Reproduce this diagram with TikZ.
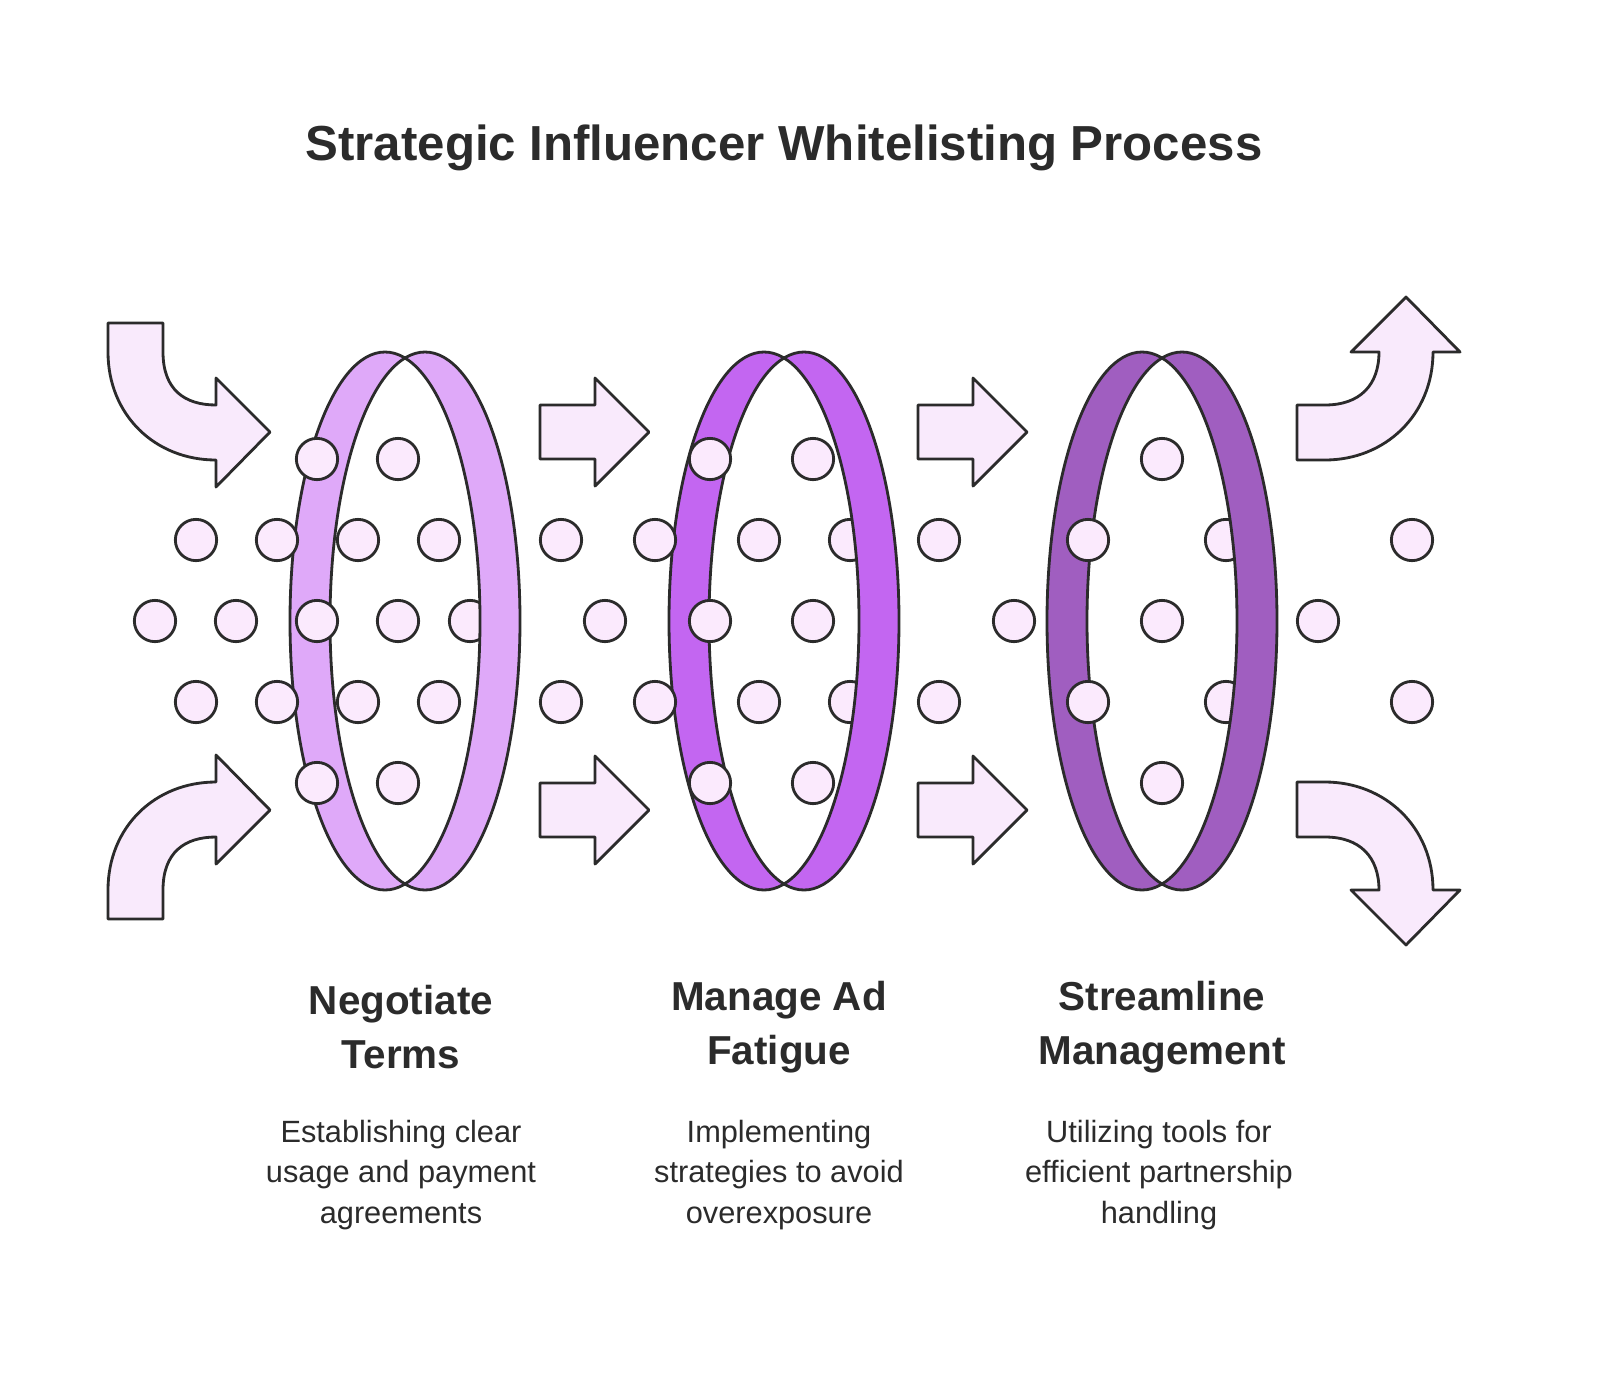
\documentclass[tikz,border=0pt]{standalone}
\usepackage{fontspec}
\setmainfont{Liberation Sans}
\usetikzlibrary{calc}
\definecolor{ink}{HTML}{2B2B2B}
\definecolor{dotfill}{HTML}{FBEAFD}
\definecolor{arrfill}{HTML}{F9EAFC}
\definecolor{ringA}{HTML}{DFA9F9}
\definecolor{ringB}{HTML}{C366F1}
\definecolor{ringC}{HTML}{A05EC0}
\tikzset{
  dot/.style={circle, draw=ink, fill=dotfill, line width=1.6pt, minimum size=23.5pt, inner sep=0pt},
  blk/.style={draw=ink, fill=arrfill, line width=1.6pt, line join=round},
  edge/.style={draw=ink, line width=1.6pt},
  head/.style={font=\bfseries\fontsize{23}{31}\selectfont, text=ink, align=center},
  desc/.style={font=\fontsize{17.5}{23}\selectfont, text=ink, align=center}
}
% ring: centre x, colour
\newcommand{\ringat}[2]{%
  \fill[#2] (#1-20,621) ellipse [x radius=95, y radius=269];
  \fill[#2] (#1+20,621) ellipse [x radius=95, y radius=269];
  \begin{scope}
    \clip (#1-20,621) ellipse [x radius=95, y radius=269];
    \fill[white] (#1+20,621) ellipse [x radius=95, y radius=269];
  \end{scope}
}
\newcommand{\ringedge}[1]{%
  \draw[edge] (#1-20,621) ellipse [x radius=95, y radius=269];
  \draw[edge] (#1+20,621) ellipse [x radius=95, y radius=269];
}
\begin{document}
\begin{tikzpicture}[x=0.02cm, y=-0.02cm]
\useasboundingbox[fill=white] (0,0) rectangle (1600,1380);
\node[font=\bfseries\fontsize{28}{34}\selectfont, text=ink] (title) at (784,148) {Strategic Influencer Whitelisting Process};

% rings
\ringat{405}{ringA}
\ringat{784}{ringB}
\ringat{1162}{ringC}

% dots hidden partly by the right band
\foreach \cx/\px in {405/470, 784/850, 1162/1226} {
  \begin{scope}
    \clip (\cx-20,621) ellipse [x radius=95, y radius=269];
    \ifnum\px=470
      \node[dot] (p-\px) at (\px,621) {};
    \else
      \node[dot] (p-\px-a) at (\px,540) {};
      \node[dot] (p-\px-b) at (\px,702) {};
    \fi
  \end{scope}
}
\ringedge{405}
\ringedge{784}
\ringedge{1162}

% dots
\foreach \x in {196,277,358,439,561,655,759,939,1088,1412} {
  \node[dot] (a-\x) at (\x,540) {};
  \node[dot] (c-\x) at (\x,702) {};
}
\foreach \x in {155,236,317,398,605,710,813,1014,1162,1318}
  \node[dot] (b-\x) at (\x,621) {};
\foreach \x in {317,398,710,813,1162} {
  \node[dot] (t-\x) at (\x,459) {};
  \node[dot] (u-\x) at (\x,783) {};
}

% straight arrows
\foreach \x in {540,918}
  \foreach \y in {432,810}
    \draw[blk] (\x,\y-27) -- (\x+55,\y-27) -- (\x+55,\y-54) -- (\x+109,\y) -- (\x+55,\y+54) -- (\x+55,\y+27) -- (\x,\y+27) -- cycle;

% curved arrows in
\draw[blk] (108,323) -- (163,323) -- (163,352) .. controls (163,390) and (185,405) .. (216,405) -- (216,378) -- (270,432) -- (216,487) -- (216,460) .. controls (155,460) and (108,415) .. (108,352) -- cycle;
\draw[blk] (108,919) -- (163,919) -- (163,890) .. controls (163,852) and (185,837) .. (216,837) -- (216,864) -- (270,810) -- (216,755) -- (216,782) .. controls (155,782) and (108,827) .. (108,890) -- cycle;
% curved arrows out
\draw[blk] (1297,460) -- (1297,405) -- (1325,405) .. controls (1360,405) and (1379,385) .. (1379,352) -- (1351,352) -- (1406,297) -- (1460,352) -- (1433,352) .. controls (1433,415) and (1385,460) .. (1325,460) -- cycle;
\draw[blk] (1297,782) -- (1297,837) -- (1325,837) .. controls (1360,837) and (1379,857) .. (1379,890) -- (1351,890) -- (1406,945) -- (1460,890) -- (1433,890) .. controls (1433,827) and (1385,782) .. (1325,782) -- cycle;

% labels
\node[head] (h1) at (401,1027) {Negotiate\\Terms};
\node[head] (h2) at (779,1027) {Manage Ad\\Fatigue};
\node[head] (h3) at (1162,1027) {Streamline\\Management};
\node[desc] (d1) at (401,1175) {Establishing clear\\usage and payment\\agreements};
\node[desc] (d2) at (779,1175) {Implementing\\strategies to avoid\\overexposure};
\node[desc] (d3) at (1159,1175) {Utilizing tools for\\efficient partnership\\handling};
\end{tikzpicture}
\end{document}
